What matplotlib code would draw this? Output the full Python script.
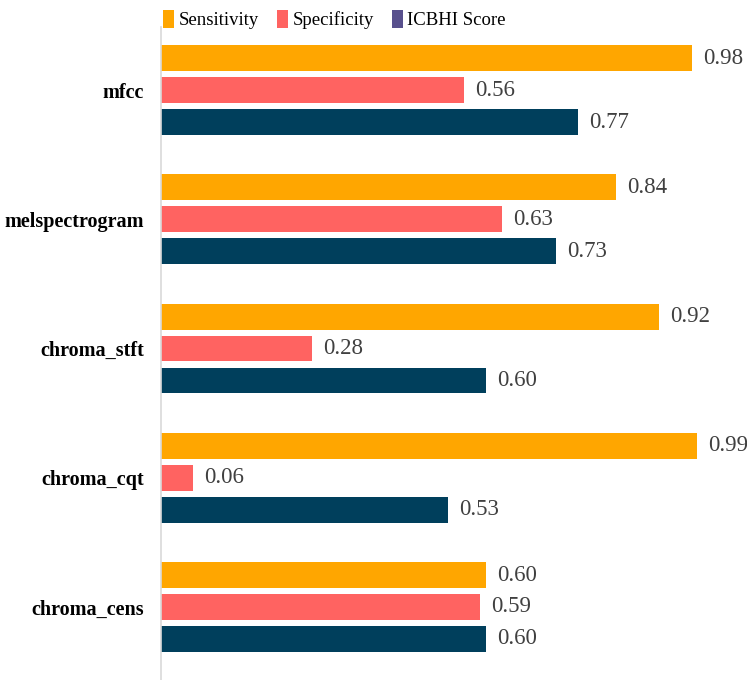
import matplotlib.pyplot as plt
from matplotlib.patches import Patch
import numpy as np

# ─── Data ─────────────────────────────────────────────────────────────────────
features    = ["mfcc", "melspectrogram", "chroma_stft", "chroma_cqt", "chroma_cens"]
sensitivity = [0.98, 0.84, 0.92, 0.99, 0.60]
specificity = [0.56, 0.63, 0.28, 0.06, 0.59]
icbhi_score = [0.77, 0.73, 0.60, 0.53, 0.60]

series = [
    ("Sensitivity", sensitivity, "#FFA600"),
    ("Specificity", specificity, "#FF6361"),
    ("ICBHI Score", icbhi_score, "#003F5C"),
]
legend_colors = ["#FFA600", "#FF6361", "#58508D"]

plt.rcParams["font.family"] = ["Liberation Serif", "DejaVu Serif"]

fig = plt.figure(figsize=(7.47, 6.8), dpi=100)
ax = fig.add_axes([0.2149, 0.0, 0.7851, 0.96])

y = np.arange(len(features))
offsets = [-0.2475, 0.0, 0.2475]
bar_h = 0.2

for (name, vals, color), off in zip(series, offsets):
    bars = ax.barh(y + off, vals, height=bar_h, color=color, edgecolor="none")
    for b, v in zip(bars, vals):
        ax.annotate(f"{v:.2f}", (b.get_width(), b.get_y() + b.get_height() / 2),
                    xytext=(8, 0), textcoords="offset points",
                    va="center", ha="left", fontsize=16.5, color="#404040")

ax.set_xlim(0, 1.082)
ax.set_ylim(4.565, -0.487)
ax.set_yticks(y)
ax.set_yticklabels(features, fontsize=14.5, fontweight="bold")
ax.tick_params(axis="y", length=0, pad=12)
ax.set_xticks([])
for s in ["top", "right", "bottom"]:
    ax.spines[s].set_visible(False)
ax.spines["left"].set_color("#D9D9D9")
ax.spines["left"].set_linewidth(1.2)

handles = [Patch(facecolor=c, edgecolor="none") for c in legend_colors]
fig.legend(handles, [s[0] for s in series], loc="upper left",
           bbox_to_anchor=(0.196, 1.01), ncol=3, frameon=False,
           fontsize=13.5, handlelength=0.55, handleheight=1.1,
           handletextpad=0.25, columnspacing=1.0)

fig.savefig("out.png", dpi=100)
